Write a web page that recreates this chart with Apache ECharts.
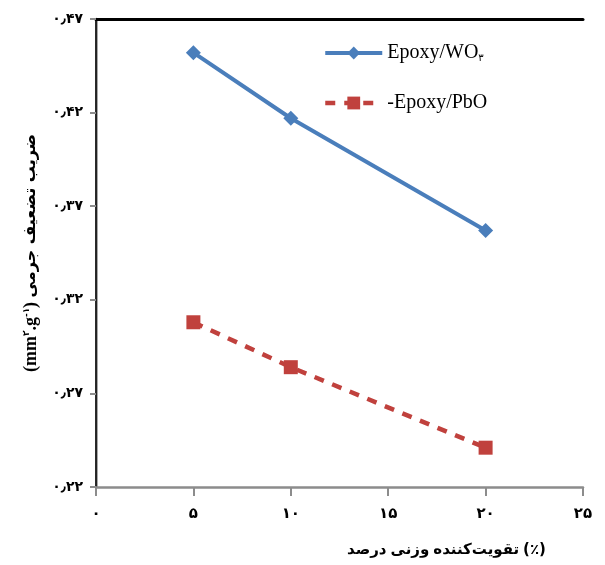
<!DOCTYPE html>
<html>
<head>
<meta charset="utf-8">
<script src="https://cdn.jsdelivr.net/npm/echarts@6/dist/echarts.min.js"></script>
<style>html,body{margin:0;padding:0;background:#fff}#c{width:605px;height:565px}</style>
</head>
<body>
<div id="c"></div>
<script>
// ---- data ----
const xValues = [5, 10, 20];
const seriesNames = ['Epoxy/WO۳', '-Epoxy/PbO'];
const wo3Values = [0.452, 0.417, 0.357];
const pboValues = [0.308, 0.284, 0.241];
const xTickValues = [0, 5, 10, 15, 20, 25];
const xTickLabels = ['۰', '۵', '۱۰', '۱۵', '۲۰', '۲۵'];
const yTickValues = [0.22, 0.27, 0.32, 0.37, 0.42, 0.47];
const yTickLabels = ['۰٫۲۲', '۰٫۲۷', '۰٫۳۲', '۰٫۳۷', '۰٫۴۲', '۰٫۴۷'];
const xTitleWords = ['درصد', 'وزنی', 'تقویت‌کننده', '(٪)'];
const yTitleText = 'ضریب تضعیف جرمی';

function lookup(vals, labels, v) {
  for (let i = 0; i < vals.length; i++) if (Math.abs(vals[i] - v) < 1e-6) return labels[i];
  return '';
}

const chart = echarts.init(document.getElementById('c'), null, {renderer: 'canvas'});
const persianFont = 'DejaVu Sans';
const wordStyle = {fontFamily: persianFont, fontWeight: 'bold', fontSize: 15, color: '#000'};
const xRich = {};
xTitleWords.forEach((w, i) => { xRich['w' + i] = Object.assign({}, wordStyle, {padding: [0, 2, 0, 2]}); });
const blue = '#4a7ebb', red = '#c0413d';
chart.setOption({
  backgroundColor: '#fff',
  animation: false,
  grid: {left: 96, right: 22, top: 19, bottom: 78},
  legend: {
    orient: 'vertical',
    left: 318, top: 38,
    itemWidth: 57, itemHeight: 16, itemGap: 30,
    data: [
      {name: seriesNames[0], lineStyle: {width: 4, color: blue}},
      {name: seriesNames[1], lineStyle: {width: 4.5, color: red, type: [10, 9]}}
    ],
    textStyle: {
      fontFamily: 'Liberation Serif', fontSize: 20, color: '#000',
      rich: {
        a: {fontFamily: 'Liberation Serif', fontSize: 20, color: '#000'},
        s: {fontFamily: persianFont, fontSize: 10, color: '#000', verticalAlign: 'bottom', padding: [8, 0, 0, 0]}
      }
    },
    formatter: function (n) {
      if (n === seriesNames[0]) return '{a|Epoxy/WO}{s|۳}';
      return '{a|' + n + '}';
    }
  },
  xAxis: [{
    type: 'value', min: 0, max: 25, interval: 5,
    axisLine: {lineStyle: {color: '#8c8c8c', width: 2.5}},
    axisTick: {show: true, inside: false, length: 9, lineStyle: {color: '#8c8c8c', width: 2}},
    splitLine: {show: false},
    axisLabel: {
      margin: 20, color: '#000', fontFamily: persianFont, fontWeight: 'bold', fontSize: 15,
      formatter: v => lookup(xTickValues, xTickLabels, v)
    },
    name: xTitleWords.map((w, i) => '{w' + i + '|' + w + '}').join(''),
    nameLocation: 'middle', nameGap: 56,
    nameTextStyle: {
      padding: [0, 0, 0, 214],
      rich: xRich
    }
  }, {
    type: 'value', min: 0, max: 25, position: 'top',
    axisLine: {show: true, lineStyle: {color: '#000', width: 3}},
    axisTick: {show: false}, axisLabel: {show: false}, splitLine: {show: false}
  }],
  yAxis: [{
    type: 'value', min: 0.22, max: 0.47, interval: 0.05,
    axisLine: {show: true, lineStyle: {color: '#8c8c8c', width: 2.5}},
    axisTick: {show: true, inside: false, length: 6, lineStyle: {color: '#8c8c8c', width: 2}},
    splitLine: {show: false},
    axisLabel: {
      margin: 13, color: '#000', fontFamily: persianFont, fontWeight: 'bold', fontSize: 14,
      formatter: v => lookup(yTickValues, yTickLabels, v)
    },
    name: '{a|(mm}{s|۲}{a|.g}{s|-۱}{a|) }{b|' + yTitleText + '}',
    nameLocation: 'middle', nameGap: 56, nameRotate: 90,
    nameTextStyle: {
      rich: {
        a: {fontFamily: 'Liberation Serif', fontWeight: 'bold', fontSize: 18, color: '#000'},
        s: {fontFamily: persianFont, fontWeight: 'bold', fontSize: 9, color: '#000', verticalAlign: 'top', padding: [0, 0, 8, 0]},
        b: {fontFamily: persianFont, fontWeight: 'bold', fontSize: 16, color: '#000'}
      }
    }
  }, {
    type: 'value', min: 0.22, max: 0.47, position: 'right',
    axisLine: {show: true, lineStyle: {color: '#000', width: 1.5}},
    axisTick: {show: false}, axisLabel: {show: false}, splitLine: {show: false}
  }],
  series: [{
    name: seriesNames[0], type: 'line',
    data: xValues.map((x, i) => [x, wo3Values[i]]),
    symbol: 'diamond', symbolSize: 15,
    itemStyle: {color: blue},
    lineStyle: {color: blue, width: 4}
  }, {
    name: seriesNames[1], type: 'line',
    data: xValues.map((x, i) => [x, pboValues[i]]),
    symbol: 'rect', symbolSize: 14,
    itemStyle: {color: red},
    lineStyle: {color: red, width: 4.5, type: [10, 9]}
  }]
});
</script>
</body>
</html>
